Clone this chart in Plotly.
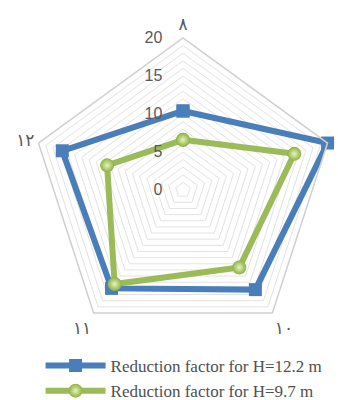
import plotly.graph_objects as go

categories = ["٨", "٩", "١٠", "١١", "١٢"]
category_text = ["٨", "", "١٠", "١١", "١٢"]
h122 = [10.4, 20.0, 16.2, 16.0, 16.7]
h97 = [6.6, 15.4, 12.6, 15.3, 10.5]
names = ["Reduction factor for H=12.2 m", "Reduction factor for H=9.7 m"]
tick_vals = list(range(0, 21))
tick_text = [(str(v) + "\u00a0" * 4) if v % 5 == 0 else "" for v in tick_vals]

def closed(a):
    return list(a) + [a[0]]

fig = go.Figure()
fig.add_trace(go.Scatterpolar(
    r=closed(h122), theta=closed(categories), name=names[0],
    mode="lines+markers",
    line=dict(color="#4A7EBB", width=6),
    marker=dict(symbol="square", size=13, color="#4A7EBB"),
))
fig.add_trace(go.Scatterpolar(
    r=closed(h97), theta=closed(categories), name=names[1],
    mode="lines+markers",
    line=dict(color="#9BBB59", width=6),
    marker=dict(symbol="circle", size=14, color="#8DB043",
                gradient=dict(type="radial", color="#E4F5B8")),
))

fig.update_layout(
    width=338, height=400,
    margin=dict(l=0, r=0, t=0, b=0, autoexpand=False),
    paper_bgcolor="white",
    showlegend=True,
    polar=dict(
        domain=dict(x=[31/338, 335/338], y=[58/400, 362/400]),
        gridshape="linear",
        bgcolor="white",
        angularaxis=dict(
            rotation=90, direction="clockwise",
            tickmode="array", tickvals=categories, ticktext=category_text,
            showgrid=False, showline=True, linecolor="#D0D0D0", linewidth=1.5,
            ticks="", tickfont=dict(family="DejaVu Sans", size=17, color="#595959"),
        ),
        radialaxis=dict(
            range=[0, 20], angle=90, tickangle=90,
            tickvals=tick_vals, ticktext=tick_text,
            showline=False, ticks="",
            gridcolor="#E3E3E3", gridwidth=1,
            tickfont=dict(family="Liberation Sans", size=16, color="#595959"),
            side="counterclockwise",
        ),
    ),
    legend=dict(
        x=0.12, y=0.13, xanchor="left", yanchor="top",
        font=dict(family="Liberation Serif", size=17, color="#505050"),
        itemwidth=60, tracegroupgap=0, bgcolor="rgba(0,0,0,0)",
    ),
)

fig.write_html("out.html")
